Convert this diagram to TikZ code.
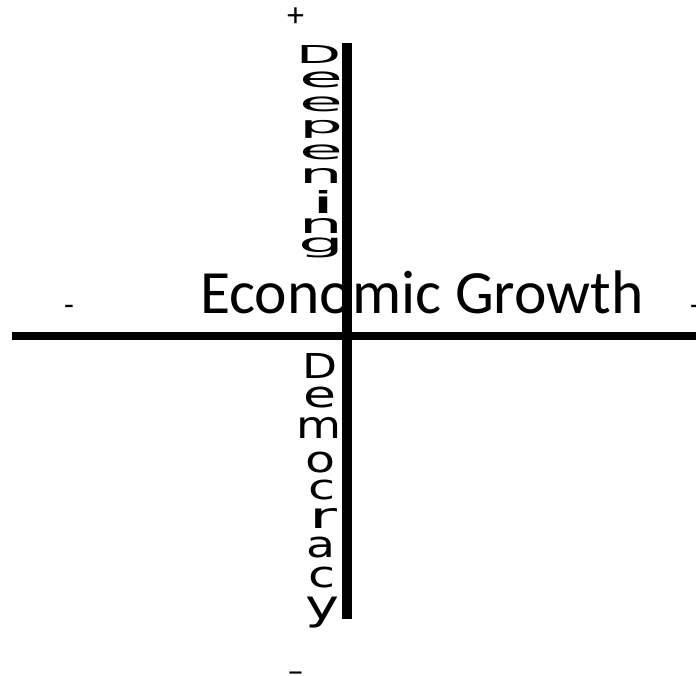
\documentclass[tikz,border=0pt]{standalone}
\usepackage{fontspec}
\usepackage{graphicx}
\setmainfont{Carlito}
\newfontfamily\dvs{DejaVu Sans}
\newcommand\gl[3]{\resizebox*{#1pt}{#2pt}{\dvs #3}}
\tikzset{
  lt/.style={inner sep=0pt, outer sep=0pt, anchor=north},
  axis/.style={line width=#1, line cap=butt},
  sign/.style={inner sep=0pt, font=\fontsize{32pt}{32pt}\selectfont}
}
\begin{document}
\begin{tikzpicture}[x=1pt,y=-1pt]
\useasboundingbox (0,0) rectangle (696,675);
% title
\node[inner sep=0pt, anchor=base west, font=\fontsize{61.5pt}{61.5pt}\selectfont] (eg) at (200,313) {Economic Growth};
% Deepening
\node[lt] (a1) at (318.5,45) {\gl{45}{18}{D}};
\node[lt] (a2) at (321,72) {\gl{44}{16}{e}};
\node[lt] (a3) at (321,97) {\gl{44}{15}{e}};
\node[lt] (a4) at (321,120) {\gl{44}{18}{p}};
\node[lt] (a5) at (321,145) {\gl{44}{15}{e}};
\node[lt] (a6) at (321,168) {\gl{44}{15}{n}};
\node[lt] (a7) at (324,190) {\gl{26}{23}{i}};
\node[lt] (a8) at (321,218) {\gl{44}{15}{n}};
\node[lt] (a9) at (321,238) {\gl{46}{20}{g}};
% Democracy
\node[lt] (b1) at (320,353) {\gl{35}{25}{D}};
\node[lt] (b2) at (320,387) {\gl{33}{21}{e}};
\node[lt] (b3) at (319.5,417) {\gl{45}{21}{m}};
\node[lt] (b4) at (320,452) {\gl{30}{21}{o}};
\node[lt] (b5) at (321.5,480) {\gl{27}{20}{c}};
\node[lt] (b6) at (323,508) {\gl{28}{20}{r}};
\node[lt] (b7) at (320.5,537) {\gl{29}{21}{a}};
\node[lt] (b8) at (321.5,567) {\gl{27}{21}{c}};
\node[lt] (b9) at (322,597) {\gl{34}{31}{y}};
% signs
\node[inner sep=0pt, font=\fontsize{34pt}{34pt}\selectfont] (ptop) at (295.5,17) {+};
\node[sign, anchor=base] (mleft) at (69,315) {-};
\node[sign, anchor=base] (mright) at (695,315) {-};
\node[inner sep=0pt, anchor=base, font=\fontsize{34pt}{34pt}\selectfont] (mbot) at (295.5,682) {–};
% axes
\coordinate (hl) at (12,336);
\coordinate (hr) at (696,336);
\coordinate (vt) at (347,43);
\coordinate (vb) at (347,619);
\draw[axis=8pt] (hl) -- (hr);
\draw[axis=10pt] (vt) -- (vb);
\end{tikzpicture}
\end{document}
